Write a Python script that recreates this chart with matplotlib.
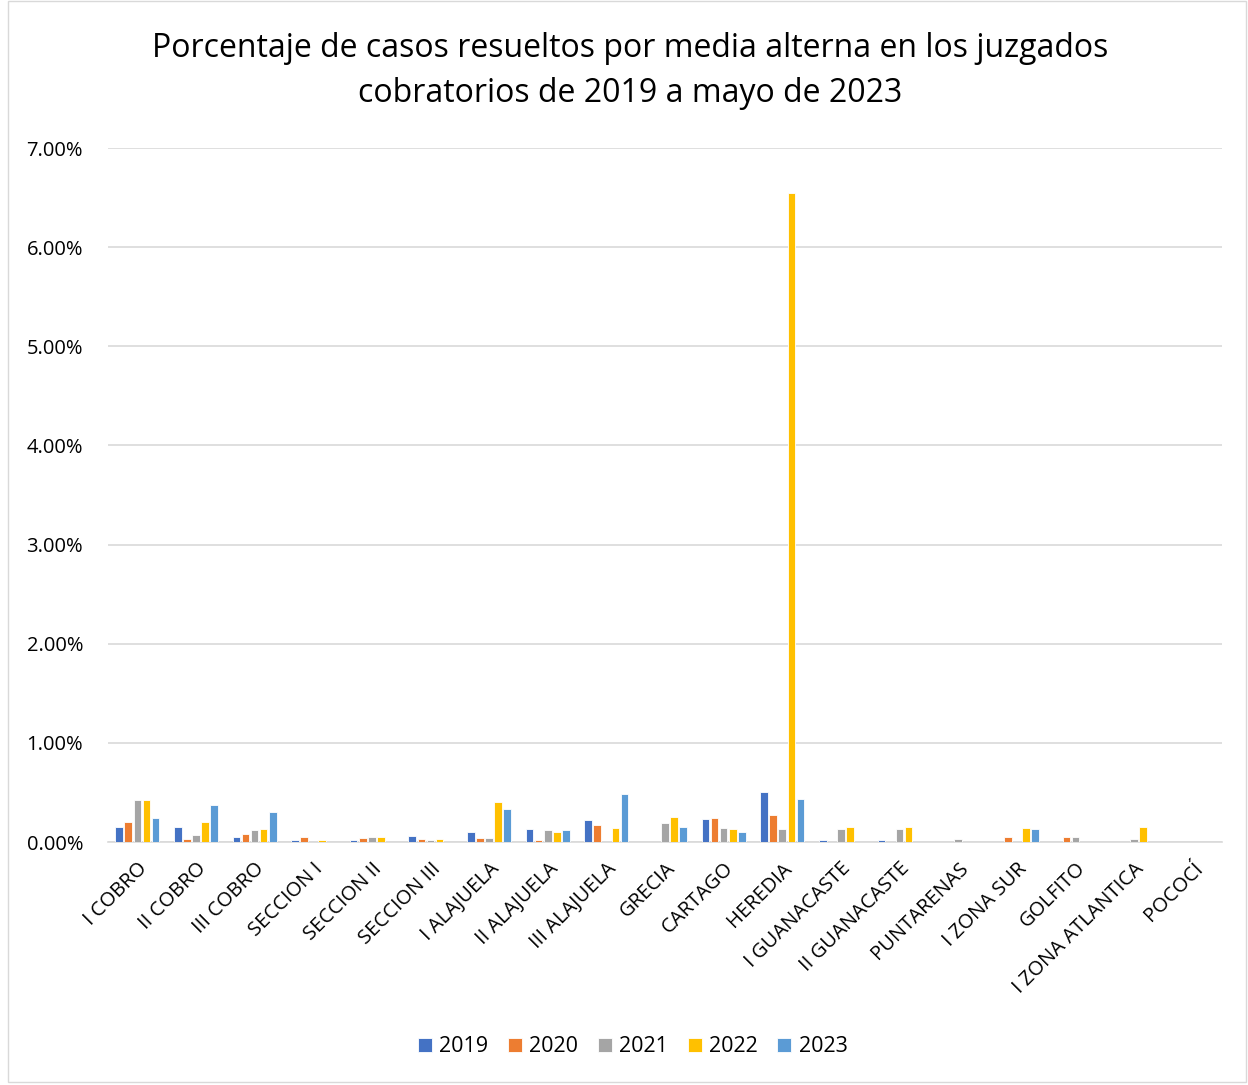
import numpy as np
import matplotlib.pyplot as plt
from matplotlib.patches import Rectangle
from matplotlib.ticker import PercentFormatter

plt.rcParams['font.family'] = ['Open Sans', 'DejaVu Sans']

juzgados = ["I COBRO", "II COBRO", "III COBRO", "SECCION I", "SECCION II", "SECCION III",
            "I ALAJUELA", "II ALAJUELA", "III ALAJUELA", "GRECIA", "CARTAGO", "HEREDIA",
            "I GUANACASTE", "II GUANACASTE", "PUNTARENAS", "I ZONA SUR", "GOLFITO",
            "I ZONA ATLANTICA", "POCOCÍ"]
anios = ["2019", "2020", "2021", "2022", "2023"]

# valores en %
v2019 = [0.148, 0.148, 0.047, 0.020, 0.020, 0.057, 0.100, 0.128, 0.219, 0.0, 0.229, 0.508,
         0.020, 0.020, 0.0, 0.0, 0.0, 0.0, 0.0]
v2020 = [0.200, 0.027, 0.077, 0.047, 0.037, 0.027, 0.037, 0.024, 0.168, 0.0, 0.239, 0.269,
         0.0, 0.0, 0.0, 0.054, 0.054, 0.0, 0.0]
v2021 = [0.420, 0.067, 0.118, 0.0, 0.047, 0.017, 0.037, 0.118, 0.0, 0.189, 0.138, 0.128,
         0.128, 0.128, 0.027, 0.0, 0.054, 0.027, 0.0]
v2022 = [0.420, 0.200, 0.128, 0.020, 0.047, 0.027, 0.400, 0.098, 0.138, 0.253, 0.128, 6.55,
         0.155, 0.155, 0.0, 0.145, 0.0, 0.155, 0.0]
v2023 = [0.246, 0.370, 0.300, 0.0, 0.0, 0.0, 0.337, 0.118, 0.488, 0.148, 0.098, 0.434,
         0.0, 0.0, 0.0, 0.128, 0.0, 0.0, 0.0]
series = [v2019, v2020, v2021, v2022, v2023]
colores = ["#4472C4", "#ED7D31", "#A5A5A5", "#FFC000", "#5B9BD5"]

fig = plt.figure(figsize=(12.48, 10.85), dpi=100)
ax = fig.add_axes([108/1248, 1 - 842/1085, (1222-108)/1248, (842-148)/1085])

x = np.arange(len(juzgados))
paso = 0.155
ancho = 0.13
for k, (vals, c, a) in enumerate(zip(series, colores, anios)):
    ax.bar(x + (k - 2) * paso, vals, ancho, color=c, label=a,
           edgecolor='white', linewidth=0.6, zorder=3)

ax.set_xlim(-0.5, len(juzgados) - 0.5)
ax.set_ylim(0, 7)
ax.set_yticks(np.arange(0, 8, 1))
ax.yaxis.set_major_formatter(PercentFormatter(decimals=2))
ax.grid(axis='y', color='#D9D9D9', linewidth=1.2, zorder=0)
for s in ['top', 'right', 'left']:
    ax.spines[s].set_visible(False)
ax.spines['bottom'].set_color('#D9D9D9')
ax.spines['bottom'].set_linewidth(1.2)
ax.tick_params(axis='both', length=0, labelsize=14.5, colors='#000000')
ax.tick_params(axis='y', pad=18)
ax.tick_params(axis='x', pad=12)
ax.set_xticks(x)
ax.set_xticklabels(juzgados, rotation=45, ha='right', rotation_mode='anchor')

fig.text(0.505, 1 - 71/1085, "Porcentaje de casos resueltos por media alterna en los juzgados\ncobratorios de 2019 a mayo de 2023",
         ha='center', va='center', fontsize=23, linespacing=1.45)

ax.legend(loc='center', bbox_to_anchor=(0.507, 1 - 1047/1085), bbox_transform=fig.transFigure,
          ncol=5, frameon=False, fontsize=15.5, handlelength=0.65, handleheight=0.65,
          columnspacing=0.9, handletextpad=0.35)

fig.patches.append(Rectangle((8/1248, 3/1085), 1 - 10/1248, 1 - 4/1085, transform=fig.transFigure,
                             fill=False, edgecolor='#D9D9D9', linewidth=1))

fig.savefig("out.png", dpi=100)
